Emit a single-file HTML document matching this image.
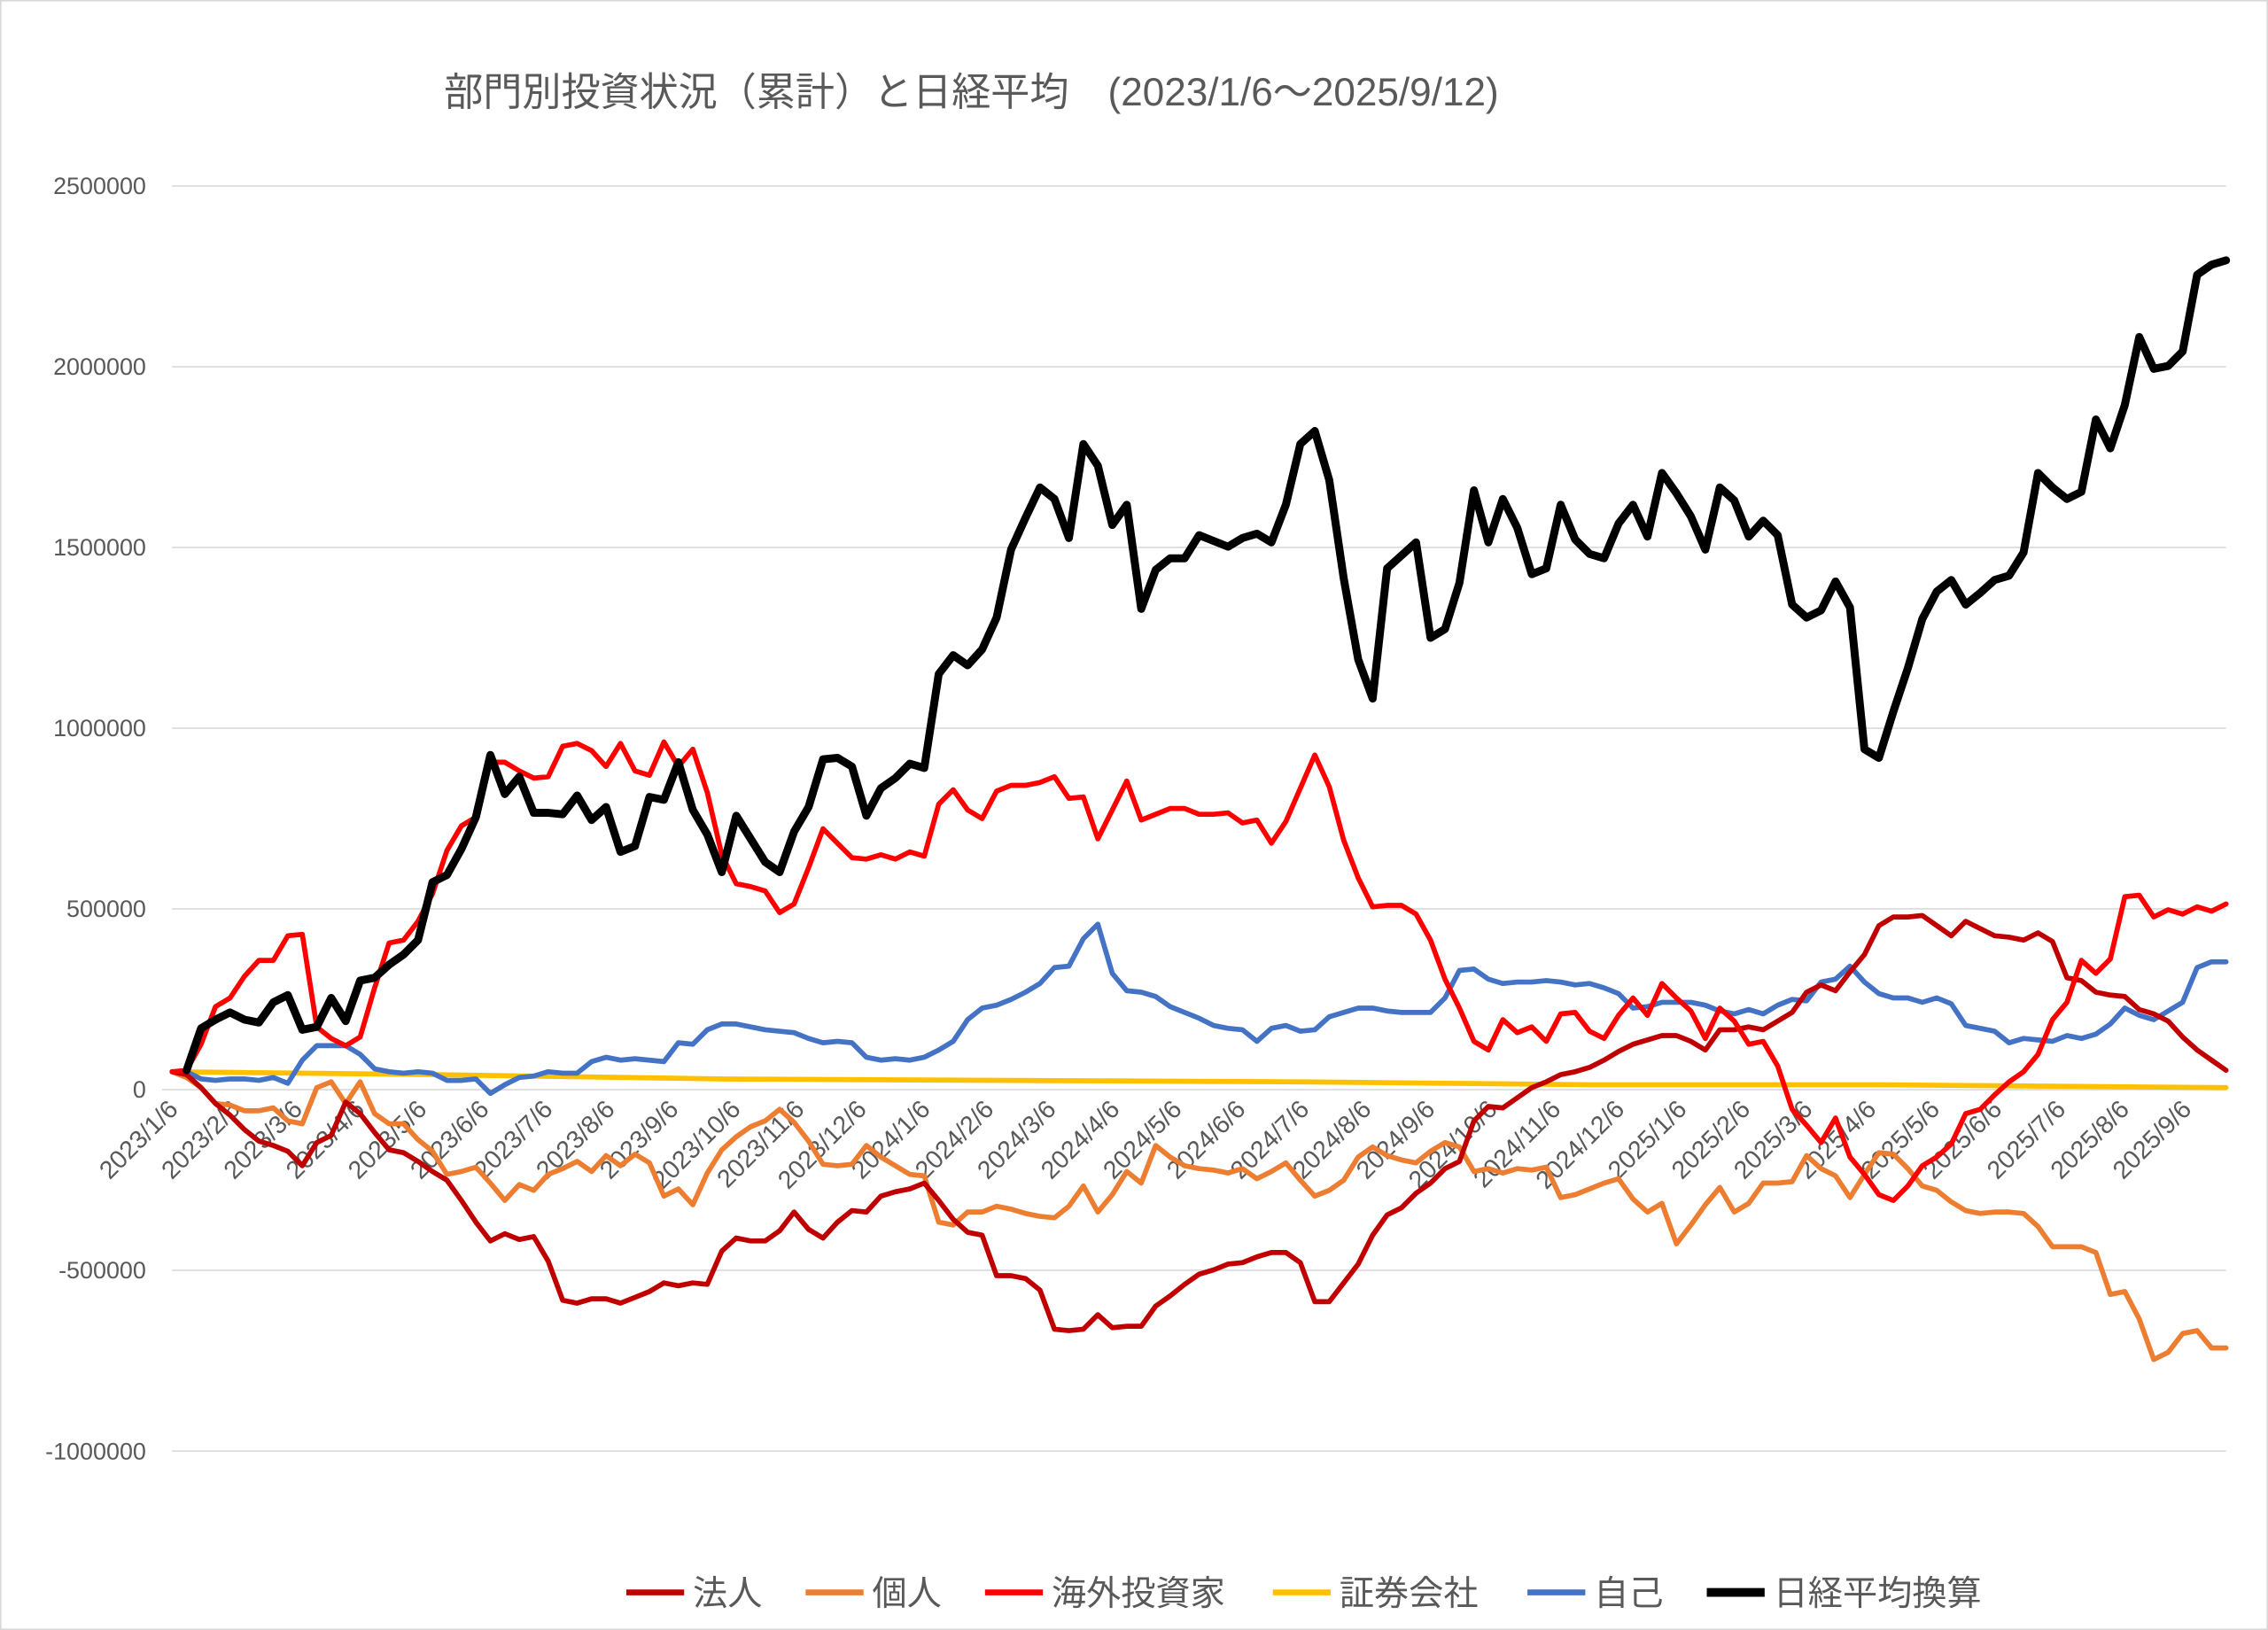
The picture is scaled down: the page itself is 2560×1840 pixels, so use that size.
<!DOCTYPE html>
<html><head><meta charset="utf-8"><style>
html,body{margin:0;padding:0;background:#fff}
svg{display:block}
text{font-family:"Liberation Sans","Noto Sans CJK JP",sans-serif;fill:#595959}
</style></head><body>
<svg width="2560" height="1840" viewBox="0 0 1568 1127" xmlns="http://www.w3.org/2000/svg">
<rect x="0.5" y="0.5" width="1567" height="1126" fill="#fff" stroke="#d9d9d9" stroke-width="1"/>
<text x="307" y="73" font-size="27">部門別投資状況（累計）と日経平均　(2023/1/6～2025/9/12)</text>
<g stroke="#d9d9d9" stroke-width="1">
<line x1="119" y1="128.6" x2="1539" y2="128.6"/>
<line x1="119" y1="253.6" x2="1539" y2="253.6"/>
<line x1="119" y1="378.5" x2="1539" y2="378.5"/>
<line x1="119" y1="503.5" x2="1539" y2="503.5"/>
<line x1="119" y1="628.4" x2="1539" y2="628.4"/>
<line x1="112" y1="753.4" x2="1539" y2="753.4"/>
<line x1="119" y1="878.3" x2="1539" y2="878.3"/>
<line x1="119" y1="1003.3" x2="1539" y2="1003.3"/>
</g>
<g font-size="16.5" text-anchor="end">
<text x="101" y="134">2500000</text>
<text x="101" y="259">2000000</text>
<text x="101" y="384">1500000</text>
<text x="101" y="509">1000000</text>
<text x="101" y="634">500000</text>
<text x="101" y="759">0</text>
<text x="101" y="884">-500000</text>
<text x="101" y="1009">-1000000</text>
</g>
<g font-size="17.5" text-anchor="end">
<text transform="translate(124,768) rotate(-45)">2023/1/6</text>
<text transform="translate(167,768) rotate(-45)">2023/2/6</text>
<text transform="translate(210,768) rotate(-45)">2023/3/6</text>
<text transform="translate(253,768) rotate(-45)">2023/4/6</text>
<text transform="translate(296,768) rotate(-45)">2023/5/6</text>
<text transform="translate(339,768) rotate(-45)">2023/6/6</text>
<text transform="translate(383,768) rotate(-45)">2023/7/6</text>
<text transform="translate(426,768) rotate(-45)">2023/8/6</text>
<text transform="translate(470,768) rotate(-45)">2023/9/6</text>
<text transform="translate(513,768) rotate(-45)">2023/10/6</text>
<text transform="translate(557,768) rotate(-45)">2023/11/6</text>
<text transform="translate(600,768) rotate(-45)">2023/12/6</text>
<text transform="translate(644,768) rotate(-45)">2024/1/6</text>
<text transform="translate(688,768) rotate(-45)">2024/2/6</text>
<text transform="translate(731,768) rotate(-45)">2024/3/6</text>
<text transform="translate(775,768) rotate(-45)">2024/4/6</text>
<text transform="translate(818,768) rotate(-45)">2024/5/6</text>
<text transform="translate(862,768) rotate(-45)">2024/6/6</text>
<text transform="translate(906,768) rotate(-45)">2024/7/6</text>
<text transform="translate(949,768) rotate(-45)">2024/8/6</text>
<text transform="translate(993,768) rotate(-45)">2024/9/6</text>
<text transform="translate(1036,768) rotate(-45)">2024/10/6</text>
<text transform="translate(1080,768) rotate(-45)">2024/11/6</text>
<text transform="translate(1124,768) rotate(-45)">2024/12/6</text>
<text transform="translate(1167,768) rotate(-45)">2025/1/6</text>
<text transform="translate(1211,768) rotate(-45)">2025/2/6</text>
<text transform="translate(1254,768) rotate(-45)">2025/3/6</text>
<text transform="translate(1298,768) rotate(-45)">2025/4/6</text>
<text transform="translate(1342,768) rotate(-45)">2025/5/6</text>
<text transform="translate(1385,768) rotate(-45)">2025/6/6</text>
<text transform="translate(1429,768) rotate(-45)">2025/7/6</text>
<text transform="translate(1473,768) rotate(-45)">2025/8/6</text>
<text transform="translate(1516,768) rotate(-45)">2025/9/6</text>
</g>
<g fill="none" stroke-linejoin="round" stroke-linecap="round">
<polyline stroke="#FFC000" stroke-width="3.5" points="119,741 300,743 500,746 700,747 900,748 1100,750 1300,750 1539,752"/>
<polyline stroke="#ED7D31" stroke-width="3.5" points="119,741 129,745 139,752 149,763 159,764 169,768 179,768 189,766 199,775 209,777 219,752 229,748 239,763 249,748 259,770 269,777 279,777 289,788 299,796 309,812 319,810 329,807 339,818 349,830 359,819 369,823 379,812 389,808 399,803 409,810 419,799 429,806 439,798 449,804 459,827 469,822 479,833 489,811 499,795 509,786 519,779 529,775 539,767 549,776 559,789 569,805 579,806 589,805 599,792 609,800 619,806 629,812 639,813 649,845 659,847 669,838 679,838 689,834 699,836 709,839 719,841 729,842 739,834 749,820 759,838 769,826 779,810 789,818 799,792 809,800 819,806 829,808 839,809 849,811 859,808 869,815 879,810 889,804 899,816 909,827 919,823 929,816 939,800 949,793 959,799 969,802 979,804 989,796 999,790 1009,793 1019,810 1029,808 1039,811 1049,808 1059,809 1069,807 1079,828 1089,826 1099,822 1109,818 1119,815 1129,829 1139,838 1149,832 1159,860 1169,847 1179,833 1189,821 1199,838 1209,832 1219,818 1229,818 1239,817 1249,799 1259,808 1269,813 1279,828 1289,812 1299,797 1309,798 1319,808 1329,820 1339,823 1349,831 1359,837 1369,839 1379,838 1389,838 1399,839 1409,848 1419,862 1429,862 1439,862 1449,866 1459,895 1469,893 1479,912 1489,940 1499,935 1509,922 1519,920 1529,932 1539,932"/>
<polyline stroke="#4472C4" stroke-width="3.5" points="119,741 129,741 139,746 149,747 159,746 169,746 179,747 189,745 199,749 209,733 219,723 229,723 239,723 249,729 259,739 269,741 279,742 289,741 299,742 309,747 319,747 329,746 339,756 349,750 359,745 369,744 379,741 389,742 399,742 409,734 419,731 429,733 439,732 449,733 459,734 469,721 479,722 489,712 499,708 509,708 519,710 529,712 539,713 549,714 559,718 569,721 579,720 589,721 599,731 609,733 619,732 629,733 639,731 649,726 659,720 669,705 679,697 689,695 699,691 709,686 719,680 729,669 739,668 749,649 759,639 769,673 779,685 789,686 799,689 809,696 819,700 829,704 839,709 849,711 859,712 869,720 879,711 889,709 899,713 909,712 919,703 929,700 939,697 949,697 959,699 969,700 979,700 989,700 999,690 1009,671 1019,670 1029,677 1039,680 1049,679 1059,679 1069,678 1079,679 1089,681 1099,680 1109,683 1119,687 1129,697 1139,696 1149,693 1159,693 1169,693 1179,695 1189,699 1199,701 1209,698 1219,701 1229,695 1239,691 1249,692 1259,679 1269,677 1279,668 1289,679 1299,687 1309,690 1319,690 1329,693 1339,690 1349,694 1359,709 1369,711 1379,713 1389,721 1399,718 1409,719 1419,720 1429,716 1439,718 1449,715 1459,708 1469,697 1479,702 1489,705 1499,699 1509,693 1519,669 1529,665 1539,665"/>
<polyline stroke="#C00000" stroke-width="3.5" points="119,741 129,743 139,752 149,763 159,771 169,781 179,789 189,792 199,796 209,806 219,790 229,785 239,762 249,770 259,783 269,795 279,797 289,803 299,810 309,816 319,830 329,845 339,858 349,853 359,857 369,855 379,872 389,899 399,901 409,898 419,898 429,901 439,897 449,893 459,887 469,889 479,887 489,888 499,865 509,856 519,858 529,858 539,851 549,838 559,850 569,856 579,845 589,837 599,838 609,827 619,824 629,822 639,818 649,830 659,843 669,852 679,854 689,882 699,882 709,884 719,892 729,919 739,920 749,919 759,909 769,918 779,917 789,917 799,903 809,896 819,888 829,881 839,878 849,874 859,873 869,869 879,866 889,866 899,873 909,900 919,900 929,887 939,874 949,854 959,840 969,835 979,825 989,818 999,808 1009,803 1019,775 1029,765 1039,766 1049,759 1059,752 1069,748 1079,743 1089,741 1099,738 1109,733 1119,727 1129,722 1139,719 1149,716 1159,716 1169,720 1179,726 1189,712 1199,712 1209,710 1219,712 1229,706 1239,700 1249,686 1259,681 1269,685 1279,672 1289,660 1299,640 1309,634 1319,634 1329,633 1339,640 1349,647 1359,637 1369,642 1379,647 1389,648 1399,650 1409,645 1419,651 1429,676 1439,678 1449,686 1459,688 1469,689 1479,698 1489,701 1499,706 1509,717 1519,726 1529,733 1539,740"/>
<polyline stroke="#FF0000" stroke-width="3.5" points="119,741 129,740 139,722 149,696 159,690 169,675 179,664 189,664 199,647 209,646 219,710 229,718 239,723 249,717 259,683 269,652 279,650 289,637 299,618 309,588 319,571 329,565 339,527 349,527 359,533 369,538 379,537 389,516 399,514 409,519 419,530 429,514 439,533 449,536 459,513 469,530 479,518 489,548 499,591 509,611 519,613 529,616 539,631 549,625 559,600 569,573 579,583 589,593 599,594 609,591 619,594 629,589 639,592 649,556 659,546 669,560 679,566 689,547 699,543 709,543 719,541 729,537 739,552 749,551 759,580 769,560 779,540 789,567 799,563 809,559 819,559 829,563 839,563 849,562 859,569 869,567 879,583 889,568 899,545 909,522 919,544 929,581 939,607 949,627 959,626 969,626 979,632 989,650 999,677 1009,697 1019,720 1029,726 1039,705 1049,714 1059,710 1069,720 1079,701 1089,700 1099,713 1109,718 1119,702 1129,690 1139,702 1149,680 1159,690 1169,699 1179,718 1189,697 1199,706 1209,722 1219,720 1229,737 1239,767 1249,778 1259,790 1269,773 1279,800 1289,812 1299,826 1309,830 1319,820 1329,806 1339,800 1349,791 1359,770 1369,767 1379,757 1389,748 1399,741 1409,729 1419,705 1429,693 1439,664 1449,673 1459,663 1469,620 1479,619 1489,634 1499,629 1509,632 1519,627 1529,630 1539,625"/>
<polyline stroke="#000000" stroke-width="5.5" points="129,740 139,711 149,705 159,700 169,705 179,707 189,693 199,688 209,712 219,710 229,690 239,706 249,678 259,676 269,667 279,660 289,650 299,610 309,605 319,587 329,565 339,522 349,549 359,537 369,562 379,562 389,563 399,550 409,567 419,558 429,589 439,585 449,551 459,553 469,527 479,560 489,577 499,603 509,564 519,580 529,596 539,603 549,575 559,558 569,525 579,524 589,530 599,564 609,545 619,538 629,528 639,531 649,466 659,453 669,460 679,449 689,427 699,380 709,358 719,337 729,345 739,372 749,307 759,322 769,363 779,349 789,421 799,394 809,386 819,386 829,370 839,374 849,378 859,372 869,369 879,375 889,349 899,307 909,298 919,332 929,400 939,456 949,483 959,393 969,384 979,375 989,441 999,435 1009,403 1019,339 1029,375 1039,345 1049,365 1059,397 1069,393 1079,349 1089,373 1099,383 1109,386 1119,362 1129,349 1139,371 1149,327 1159,341 1169,357 1179,380 1189,337 1199,346 1209,371 1219,360 1229,370 1239,418 1249,427 1259,422 1269,402 1279,420 1289,518 1299,524 1309,492 1319,462 1329,428 1339,409 1349,401 1359,418 1369,410 1379,401 1389,398 1399,382 1409,327 1419,337 1429,345 1439,340 1449,290 1459,310 1469,280 1479,233 1489,255 1499,253 1509,243 1519,190 1529,183 1539,180"/>
</g>
<g font-size="24">
<line x1="433" y1="1101" x2="473" y2="1101" stroke="#C00000" stroke-width="4"/><text x="479" y="1110">法人</text>
<line x1="557" y1="1101" x2="597" y2="1101" stroke="#ED7D31" stroke-width="4"/><text x="603" y="1110">個人</text>
<line x1="681" y1="1101" x2="721" y2="1101" stroke="#FF0000" stroke-width="4"/><text x="727" y="1110">海外投資家</text>
<line x1="880" y1="1101" x2="920" y2="1101" stroke="#FFC000" stroke-width="4"/><text x="926" y="1110">証券会社</text>
<line x1="1056" y1="1101" x2="1096" y2="1101" stroke="#4472C4" stroke-width="4"/><text x="1102" y="1110">自己</text>
<line x1="1180" y1="1101" x2="1220" y2="1101" stroke="#000000" stroke-width="6"/><text x="1226" y="1110">日経平均換算</text>
</g>
</svg>
</body></html>
